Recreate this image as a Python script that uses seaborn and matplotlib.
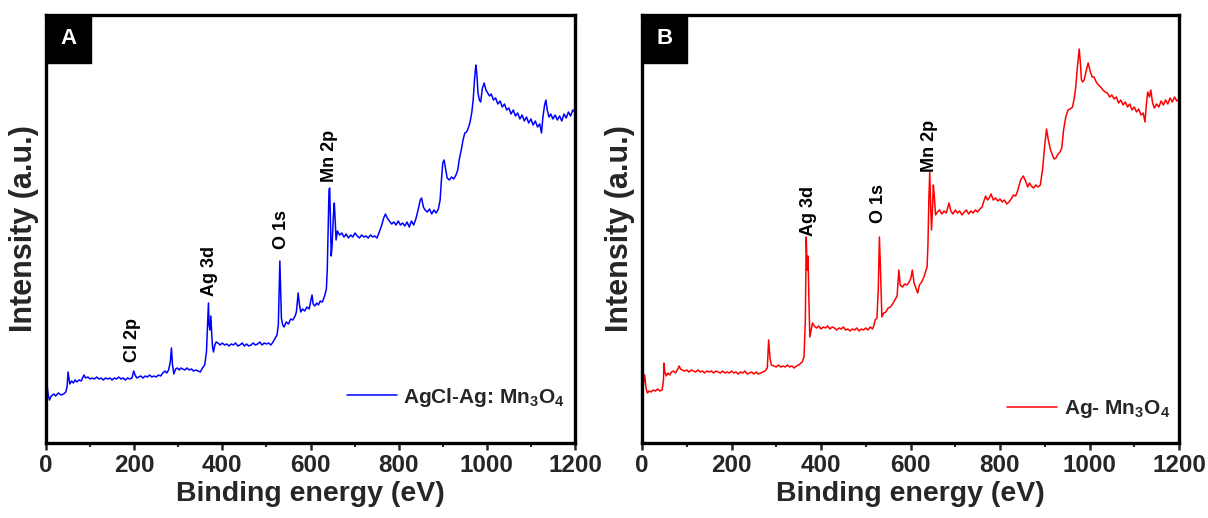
import matplotlib
matplotlib.use("Agg")
import matplotlib.pyplot as plt
from matplotlib.patches import Rectangle
import seaborn as sns
import pandas as pd

# ---------------- data (binding energy in eV, intensity in a.u.) ----------------
be_a = [0, 2, 5, 8, 12, 18, 22, 28, 34, 40, 45, 48, 50, 52, 54, 58, 62, 66, 70, 75, 80, 84, 86, 90, 95,
        100, 105, 110, 115, 120, 125, 130, 135, 140, 145, 150, 155, 160, 165, 170, 175, 180, 185, 190, 195,
        199, 202, 206, 210, 215, 220, 225, 230, 235, 240, 245, 250, 255, 260, 265, 270, 274, 278, 282, 284.5,
        287, 290, 294, 298, 302, 306, 310, 315, 320, 325, 330, 335, 340, 345, 350, 355, 360, 364, 367, 368.5,
        370, 372, 374, 376, 378, 380, 383, 386, 390, 395, 400, 405, 410, 415, 420, 425, 430, 435, 440, 445,
        450, 455, 460, 465, 470, 475, 480, 485, 490, 495, 500, 505, 510, 515, 520, 524, 527, 529, 530.5, 532,
        534, 537, 540, 545, 550, 555, 560, 565, 568, 572, 575, 578, 582, 587, 592, 597, 601, 603.5, 606, 610,
        614, 618, 622, 627, 632, 636, 638, 640, 642, 643.5, 645, 647, 649, 652, 654, 656, 658, 661, 666, 671,
        676, 681, 686, 691, 696, 701, 706, 711, 716, 721, 726, 731, 736, 741, 746, 751, 756, 761, 766, 770,
        774, 779, 784, 789, 794, 799, 804, 809, 814, 819, 824, 829, 834, 839, 844, 849, 852, 856, 860, 865,
        870, 875, 880, 885, 890, 894, 897, 900, 903, 906, 910, 915, 920, 925, 930, 934, 938, 942, 946, 950,
        954, 958, 962, 966, 969, 972, 975, 977, 980, 983, 986, 990, 994, 998, 1002, 1006, 1010, 1015, 1020,
        1025, 1030, 1035, 1040, 1045, 1050, 1055, 1060, 1065, 1070, 1075, 1080, 1085, 1090, 1095, 1100, 1105,
        1110, 1115, 1120, 1124, 1127, 1131, 1134, 1137, 1141, 1145, 1150, 1155, 1160, 1165, 1170, 1175, 1180,
        1185, 1190, 1195, 1200]
int_a = [57, 60, 48, 43, 47, 49, 47, 50, 48, 49, 51, 57, 71, 65, 59, 62, 60, 63, 61, 63, 62, 66, 68, 65, 66,
         64, 65, 64, 66, 64, 65, 63, 65, 64, 65, 63, 65, 64, 66, 64, 65, 63, 65, 64, 65,
         72, 68, 65, 66, 67, 65, 67, 66, 68, 66, 67, 66, 68, 67, 70, 72, 70, 73, 81, 95,
         78, 69, 74, 75, 73, 75, 74, 73, 75, 73, 74, 72, 73, 72, 71, 75, 78, 91, 125, 140,
         118, 113, 127, 108, 95, 91, 98, 101, 100, 98, 100, 98, 99, 97, 99, 98, 100, 97, 98, 100,
         97, 99, 97, 98, 100, 98, 99, 101, 98, 100, 99, 100, 98, 101, 105, 108, 118, 153, 182, 158,
         125, 118, 116, 121, 119, 124, 123, 127, 131, 150, 138, 131, 134, 132, 136, 134, 143, 148, 139, 137,
         140, 138, 142, 141, 147, 154, 173, 213, 253, 255, 228, 187, 198, 228, 240, 223, 203, 212, 208, 210,
         206, 209, 205, 208, 206, 210, 207, 205, 208, 206, 207, 205, 208, 206, 207, 205, 211, 217, 225, 229,
         225, 222, 219, 221, 218, 222, 218, 220, 217, 221, 216, 222, 218, 224, 233, 243, 245, 236, 233, 231,
         234, 229, 233, 230, 234, 243, 263, 280, 283, 275, 265, 263, 266, 264, 268, 273, 285, 293, 303, 310,
         311, 315, 321, 331, 343, 363, 378, 371, 350, 343, 341, 355, 360, 353, 350, 347, 349, 343, 345,
         339, 342, 336, 339, 333, 335, 329, 333, 327, 330, 324, 328, 322, 326, 320, 324, 318,
         322, 316, 319, 310, 325, 338, 343, 333, 326, 329, 324, 328, 323, 327, 322, 329, 325,
         331, 327, 333, 331]

be_b = [0, 3, 6, 9, 12, 16, 20, 25, 30, 35, 40, 45, 48, 49, 51, 54, 58, 62, 66, 70, 75, 80, 83, 86, 90, 95,
        100, 105, 110, 115, 120, 125, 130, 135, 140, 145, 150, 155, 160, 165, 170, 175, 180, 185, 190, 195,
        200, 205, 210, 215, 220, 225, 230, 235, 240, 245, 250, 255, 260, 265, 270, 275, 280, 283, 286, 289,
        295, 300, 305, 310, 315, 320, 325, 330, 335, 340, 345, 350, 355, 358, 362, 365, 367, 369, 371, 373,
        375, 378, 381, 385, 390, 395, 400, 405, 410, 415, 420, 425, 430, 435, 440, 445, 450, 455, 460, 465,
        470, 475, 480, 485, 490, 495, 500, 505, 510, 515, 518, 521, 525, 528, 530.5, 533, 536, 540, 545, 550,
        555, 560, 565, 570, 574, 577, 582, 587, 592, 597, 601, 604, 608, 612, 616, 620, 625, 630, 635, 637,
        639, 641, 643, 645, 647, 649, 651, 653, 656, 660, 665, 670, 675, 680, 686, 690, 695, 700, 705, 710,
        715, 720, 725, 730, 735, 740, 745, 750, 755, 760, 764, 768, 772, 776, 780, 785, 790, 795, 800, 805,
        810, 815, 820, 825, 830, 835, 840, 846, 852, 855, 858, 862, 866, 870, 875, 880, 885, 890, 895, 900,
        904, 908, 913, 918, 921, 925, 930, 934, 938, 942, 947, 952, 957, 962, 966, 969, 973, 977, 980, 982,
        985, 988, 992, 997, 1002, 1006, 1010, 1015, 1020, 1025, 1030, 1035, 1040, 1045, 1050, 1055, 1060,
        1065, 1070, 1075, 1080, 1085, 1090, 1095, 1100, 1105, 1110, 1115, 1120, 1124, 1127, 1130, 1134, 1137,
        1141, 1145, 1150, 1155, 1160, 1165, 1170, 1175, 1180, 1185, 1190, 1195, 1200]
int_b = [45, 58, 68, 55, 50, 52, 51, 53, 52, 54, 52, 53, 63, 80, 71, 67, 70, 68, 71, 72, 70, 74, 77, 74, 73, 72,
         73, 71, 73, 72, 71, 73, 71, 72, 70, 72, 71, 72, 70, 72, 71, 70, 72, 70, 71, 70,
         72, 70, 71, 69, 71, 70, 72, 69, 70, 71, 69, 71, 69, 70, 71, 72, 75, 103, 85, 78,
         77, 76, 78, 76, 77, 76, 78, 76, 77, 75, 77, 78, 80, 81, 86, 123, 206, 173, 187, 143,
         106, 113, 120, 117, 115, 117, 114, 116, 115, 117, 114, 116, 115, 113, 115, 114, 116, 113, 114, 112,
         114, 113, 115, 112, 114, 113, 115, 113, 116, 114, 117, 123, 125, 153, 206, 173, 126, 130, 131, 135,
         136, 139, 143, 147, 173, 158, 156, 159, 158, 161, 165, 173, 160, 155, 150, 158, 161, 166, 173, 176,
         198, 243, 271, 238, 213, 233, 258, 248, 228, 231, 233, 229, 232, 230, 240, 232, 229, 233, 230, 232,
         228, 231, 233, 229, 232, 230, 233, 231, 234, 236, 242, 247, 243, 245, 249, 243, 245, 242, 244, 241,
         243, 239, 241, 244, 248, 247, 253, 263, 267, 264, 261, 256, 260, 257, 255, 258, 256, 258, 273, 298,
         314, 303, 293, 287, 284, 285, 289, 291, 295, 313, 326, 333, 334, 336, 345, 355, 376, 394, 378, 363,
         361, 363, 371, 380, 371, 366, 366, 361, 358, 356, 353, 351, 350, 346, 348, 344, 346,
         340, 343, 338, 341, 336, 339, 333, 336, 331, 334, 328, 330, 321, 338, 351, 346, 353,
         340, 335, 339, 336, 342, 338, 343, 339, 345, 341, 346, 342, 344]

xticks = [0, 200, 400, 600, 800, 1000, 1200]
label_a = r"AgCl-Ag: Mn$_\mathbf{3}$O$_\mathbf{4}$"
label_b = r"Ag- Mn$_\mathbf{3}$O$_\mathbf{4}$"
peaks_a = ["Cl 2p", "Ag 3d", "O 1s", "Mn 2p"]
peak_x_a = [197, 372, 535, 643]
peak_y_a = [81, 147, 194, 261]
peaks_b = ["Ag 3d", "O 1s", "Mn 2p"]
peak_x_b = [373, 528, 642]
peak_y_b = [207, 220, 271]

# ---------------- style ----------------
sns.set_style("ticks")
plt.rcParams["font.family"] = ["Liberation Sans", "DejaVu Sans"]
plt.rcParams["font.weight"] = "bold"
plt.rcParams["mathtext.fontset"] = "custom"
plt.rcParams["mathtext.rm"] = "Liberation Sans:bold"
plt.rcParams["mathtext.bf"] = "Liberation Sans:bold"
plt.rcParams["mathtext.it"] = "Liberation Sans:bold"

fig = plt.figure(figsize=(12.08, 5.18), dpi=100)
ax_a = fig.add_axes([46 / 1208, 1 - 443 / 518, 529 / 1208, 428 / 518])
ax_b = fig.add_axes([642 / 1208, 1 - 443 / 518, 537 / 1208, 428 / 518])

df_a = pd.DataFrame({"be": be_a, "intensity": int_a})
df_b = pd.DataFrame({"be": be_b, "intensity": int_b})

sns.lineplot(data=df_a, x="be", y="intensity", ax=ax_a, color="#0000ff", linewidth=1.1,
             estimator=None, sort=False, label=label_a)
sns.lineplot(data=df_b, x="be", y="intensity", ax=ax_b, color="#ff0000", linewidth=1.1,
             estimator=None, sort=False, label=label_b)

panels = [(ax_a, "A", peaks_a, peak_x_a, peak_y_a, (0.981, 0.107)),
          (ax_b, "B", peaks_b, peak_x_b, peak_y_b, (0.983, 0.079))]

for ax, letter, names, px, py, leg_pos in panels:
    ax_w_px = ax.get_position().width * 1208
    ax.set_xlim(0, 1200)
    ax.set_ylim(0, 428)
    ax.set_xticks(xticks)
    ax.set_xticks([100, 300, 500, 700, 900, 1100], minor=True)
    ax.set_yticks([])
    ax.set_xlabel("Binding energy (eV)", fontsize=20.5, fontweight="bold", labelpad=3)
    ax.set_ylabel("Intensity (a.u.)", fontsize=22, fontweight="bold", labelpad=5)
    for s in ax.spines.values():
        s.set_visible(True)
        s.set_linewidth(2.4)
        s.set_color("black")
    ax.tick_params(axis="x", which="major", direction="out", length=5, width=1.8,
                   labelsize=17.5, pad=3)
    ax.tick_params(axis="x", which="minor", direction="out", length=3, width=1.5)
    for t in ax.get_xticklabels():
        t.set_fontweight("bold")
    for name, x, y in zip(names, px, py):
        ax.text(x, y, name, rotation=90, ha="center", va="bottom", fontsize=13,
                fontweight="bold", color="black")
    ax.add_patch(Rectangle((0, 1 - 48 / 428), 45 / ax_w_px, 48 / 428,
                           transform=ax.transAxes, facecolor="black",
                           edgecolor="black", zorder=5, clip_on=False))
    ax.text(22.5 / ax_w_px, 1 - 24 / 428, letter,
            transform=ax.transAxes, ha="center", va="center", color="white",
            fontsize=16, fontweight="bold", zorder=6)
    leg = ax.legend(loc="center right", bbox_to_anchor=leg_pos, frameon=False,
                    fontsize=15, handlelength=2.4, borderpad=0, borderaxespad=0,
                    handletextpad=0.3)
    for t in leg.get_texts():
        t.set_fontweight("bold")

fig.savefig("out.png", dpi=100)
